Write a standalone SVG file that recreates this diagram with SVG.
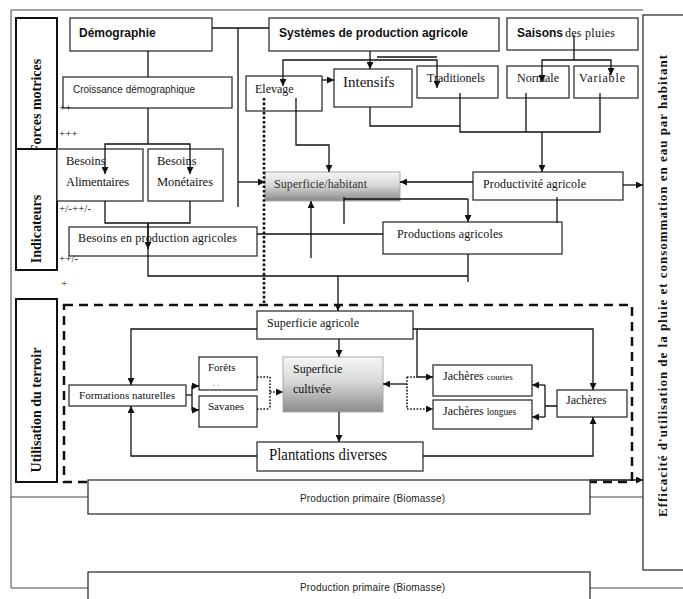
<svg xmlns="http://www.w3.org/2000/svg" width="683" height="599" viewBox="0 0 683 599">
<defs>
<marker id="ah" viewBox="0 0 10 10" refX="10" refY="5" markerWidth="7" markerHeight="7" markerUnits="userSpaceOnUse" orient="auto"><path d="M0,0 L10,5 L0,10 z" fill="#111"/></marker>
<linearGradient id="g1" x1="0" y1="0" x2="0" y2="1"><stop offset="0" stop-color="#f6f6f6"/><stop offset="0.45" stop-color="#d8d8d8"/><stop offset="1" stop-color="#8a8a8a"/></linearGradient>
</defs>
<style>
.bx{fill:#fff;stroke:#333;stroke-width:1.3}
.lb{fill:#fff;stroke:#111;stroke-width:2}
.gb{fill:url(#g1);stroke:#aaa;stroke-width:1}
.c{fill:none;stroke:#111;stroke-width:1.3}
.a{marker-end:url(#ah)}
.dot{fill:none;stroke:#111;stroke-width:1.6;stroke-dasharray:1.6 1.6}
.bigdot{fill:none;stroke:#111;stroke-width:2.6;stroke-dasharray:2.6 2}
.dash{fill:none;stroke:#111;stroke-width:2.5;stroke-dasharray:9 6}
.fr{fill:none;stroke:#444;stroke-width:1}
.s{font-family:"Liberation Serif","Times New Roman",serif;font-size:12px;fill:#111}
.h{font-family:"Liberation Sans",Arial,sans-serif;font-weight:bold;font-size:12px;fill:#111}
.v{font-family:"Liberation Serif","Times New Roman",serif;font-weight:bold;font-size:14px;fill:#111}
.p{font-family:"Liberation Sans",Arial,sans-serif;font-size:10px;fill:#222}
.m{font-family:"Liberation Sans",Arial,sans-serif;font-size:11px;fill:#222}
</style>
<rect width="683" height="599" fill="#fff"/>
<g id="frame">
<path class="fr" d="M643 10 H11 V588 H88"/>
<path class="fr" d="M11 497 H88 M590 497 H643 M590 588 H683"/>
<rect class="dash" x="64" y="305" width="568" height="177"/>
</g>
<g id="forces-motrices"><rect class="lb" x="16" y="18" width="41" height="132"/><text class="v" transform="translate(41,153) rotate(-90)">Forces motrices</text></g>
<g id="indicateurs"><rect class="lb" x="16" y="149" width="41" height="121"/><text class="v" text-anchor="middle" transform="translate(41,229) rotate(-90)">Indicateurs</text></g>
<g id="utilisation-terroir"><rect class="lb" x="16" y="299" width="41" height="183"/><text class="v" text-anchor="middle" transform="translate(41,410) rotate(-90)">Utilisation du terroir</text></g>
<g id="efficacite"><rect class="bx" x="643" y="15" width="50" height="555"/><text class="v" style="font-size:13px" text-anchor="middle" textLength="462" lengthAdjust="spacing" transform="translate(667,286) rotate(-90)">Efficacité d'utilisation de la pluie et consommation en eau par habitant</text></g>
<g id="demographie"><rect class="bx" x="70" y="18" width="142" height="33"/><text class="h" x="79" y="37">Démographie</text></g>
<g id="systemes"><rect class="bx" x="269" y="18" width="230" height="33"/><text class="h" x="279" y="37" textLength="189" lengthAdjust="spacingAndGlyphs">Systèmes de production agricole</text></g>
<g id="saisons"><rect class="bx" x="507" y="18" width="131" height="32"/><text x="517" y="37"><tspan class="h">Saisons</tspan><tspan class="s" dx="2" textLength="50">des pluies</tspan></text></g>
<g id="croissance"><rect class="bx" x="63" y="77" width="169" height="31"/><text class="m" x="73" y="93" textLength="122" lengthAdjust="spacingAndGlyphs">Croissance démographique</text></g>
<g id="elevage"><rect class="bx" x="246" y="76" width="76" height="35"/><text class="s" x="255" y="93">Elevage</text></g>
<g id="intensifs"><rect class="bx" x="334" y="69" width="78" height="38"/><text class="s" style="font-size:15px" x="343" y="87">Intensifs</text></g>
<g id="traditionels"><rect class="bx" x="417" y="66" width="81" height="32"/><text class="s" x="427" y="82" textLength="58">Traditionels</text></g>
<g id="normale"><rect class="bx" x="507" y="66" width="62" height="32"/><text class="s" x="517" y="82" textLength="42">Normale</text></g>
<g id="variable"><rect class="bx" x="574" y="66" width="64" height="32"/><text class="s" x="579" y="82" textLength="46">Variable</text></g>
<g id="besoins-alimentaires"><rect class="bx" x="57" y="149" width="86" height="52"/><text class="s" style="font-size:12.5px" x="66" y="165">Besoins</text><text class="s" style="font-size:12.5px" x="66" y="186" textLength="63">Alimentaires</text></g>
<g id="besoins-monetaires"><rect class="bx" x="148" y="149" width="75" height="52"/><text class="s" style="font-size:12.5px" x="157" y="165">Besoins</text><text class="s" style="font-size:12.5px" x="157" y="186" textLength="56">Monétaires</text></g>
<g id="superficie-habitant"><rect class="gb" x="265" y="172" width="135" height="29"/><text class="s" x="274" y="188" style="fill:#333" textLength="93">Superficie/habitant</text></g>
<g id="productivite"><rect class="bx" x="473" y="172" width="150" height="28"/><text class="s" x="483" y="188" textLength="103">Productivité agricole</text></g>
<g id="besoins-production"><rect class="bx" x="69" y="227" width="188" height="29"/><text class="s" x="78" y="242" textLength="159">Besoins en production agricoles</text></g>
<g id="productions-agricoles"><rect class="bx" x="383" y="222" width="179" height="32"/><text class="s" x="397" y="238" textLength="106">Productions agricoles</text></g>
<g id="superficie-agricole"><rect class="bx" x="257" y="311" width="156" height="28"/><text class="s" x="267" y="327" textLength="92">Superficie agricole</text></g>
<g id="formations"><rect class="bx" x="69" y="385" width="117" height="21"/><text class="s" style="font-size:11px" x="79" y="399" textLength="96">Formations naturelles</text></g>
<g id="forets"><rect class="bx" x="199" y="357" width="58" height="33"/><text class="s" style="font-size:11px" x="208" y="371">Forêts</text><text class="s" style="font-size:8px" x="213" y="386">.  .</text></g>
<g id="savanes"><rect class="bx" x="199" y="396" width="58" height="31"/><text class="s" style="font-size:11px" x="208" y="410">Savanes</text></g>
<g id="superficie-cultivee"><rect class="gb" x="283" y="357" width="100" height="55"/><text class="s" x="293" y="373">Superficie</text><text class="s" x="293" y="393">cultivée</text></g>
<g id="plantations"><rect class="bx" x="257" y="442" width="166" height="29"/><text class="s" style="font-size:16.5px" x="269" y="460" textLength="118" lengthAdjust="spacingAndGlyphs">Plantations diverses</text></g>
<g id="jacheres-courtes"><rect class="bx" x="433" y="365" width="99" height="31"/><text class="s" x="443" y="380">Jachères <tspan style="font-size:9px">courtes</tspan></text></g>
<g id="jacheres-longues"><rect class="bx" x="433" y="400" width="99" height="29"/><text class="s" x="443" y="415">Jachères <tspan style="font-size:9.5px">longues</tspan></text></g>
<g id="jacheres"><rect class="bx" x="557" y="390" width="70" height="27"/><text class="s" x="566" y="404">Jachères</text></g>
<g id="production-primaire-1"><rect class="bx" x="88" y="480" width="502" height="34"/><text class="p" x="300" y="502" textLength="145">Production primaire (Biomasse)</text></g>
<g id="production-primaire-2"><rect class="bx" x="88" y="572" width="502" height="40"/><text class="p" x="300" y="591" textLength="145">Production primaire (Biomasse)</text></g>
<g id="signs" class="s" style="font-size:11px">
<text x="59" y="111">++</text>
<text x="59" y="137">+++</text>
<text x="59" y="212">+/-++/-</text>
<text x="59" y="262">++/-</text>
<text x="61" y="287">+</text>
</g>
<g id="connectors">
<path class="c" d="M212 28 H269 M238 28 V207"/>
<path class="c a" d="M238 182 H265"/>
<path class="c" d="M148 51 V77 M148 108 V144"/>
<path class="c a" d="M148 144 H105 V174"/>
<path class="c a" d="M148 144 H190 V174"/>
<path class="c" d="M105 201 V223 H190 V201 M148 223 V276 H468 M468 254 V282"/>
<path class="c a" d="M148 223 V249"/>
<path class="c a" d="M338 276 V311"/>
<path class="c" d="M257 234 H383"/>
<path class="c a" d="M370 51 V69"/>
<path class="c a" d="M370 60 H283 V86"/>
<path class="c a" d="M370 60 H437 V88"/>
<path class="c" d="M377 57 H437"/>
<path class="c a" d="M322 80 H334"/>
<path class="c a" d="M296 98 V145 H329 V172"/>
<path class="bigdot" d="M264 98 V305"/>
<path class="c" d="M370 107 V126 H460 M460 93 V132 H600 V93 M526 93 V132"/>
<path class="c a" d="M542 132 V172"/>
<path class="c" d="M574 35 V60"/>
<path class="c a" d="M574 60 H542 V82"/>
<path class="c a" d="M574 60 H611 V75"/>
<path class="c a" d="M623 185 H643"/>
<path class="c a" d="M473 182 H400"/>
<path class="c" d="M344 199 H468 M344 197 V224 M557 197 V223"/>
<path class="c a" d="M468 199 V222"/>
<path class="c a" d="M311 258 V201"/>
<path class="c a" d="M257 329 H131 V385"/>
<path class="c a" d="M257 456 H131 V406"/>
<path class="c" d="M186 395 H192"/>
<path class="c a" d="M192 395 V386 H199"/>
<path class="c a" d="M192 395 V410 H199"/>
<path class="dot" d="M257 377 H270 M257 409 H270 M270 377 V409"/>
<path class="dot a" d="M270 392 H283"/>
<path class="c a" d="M339 339 V357"/>
<path class="c a" d="M339 412 V442"/>
<path class="c a" d="M413 329 H593 V390"/>
<path class="c a" d="M423 456 H593 V417"/>
<path class="c a" d="M417 329 V377 H433"/>
<path class="dot" d="M407 377 H417"/>
<path class="dot a" d="M407 377 V409 H433"/>
<path class="c a" d="M407 384 H383"/>
<path class="c" d="M557 406 H545 M545 385 V417"/>
<path class="c a" d="M545 385 H532"/>
<path class="c a" d="M545 417 H532"/>
<path class="c a" d="M590 480 H643"/>
</g>
</svg>
